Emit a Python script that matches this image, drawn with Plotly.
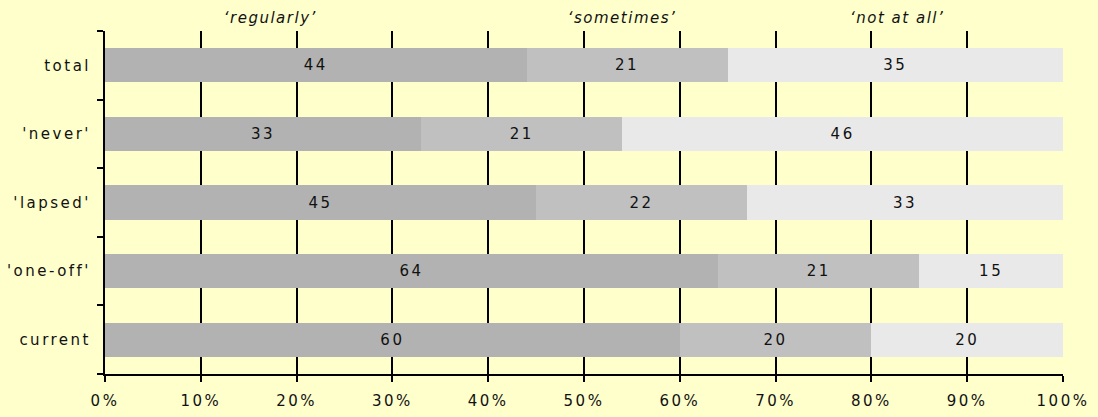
import plotly.graph_objects as go

categories = ["total", "'never'", "'lapsed'", "'one-off'", "current"]
regularly = [44, 33, 45, 64, 60]
sometimes = [21, 21, 22, 21, 20]
not_at_all = [35, 46, 33, 15, 20]
series_names = ["\u2018regularly\u2019", "\u2018sometimes\u2019", "\u2018not at all\u2019"]
header_pos = [0.13, 0.54, 0.868]
x_ticks = [0, 10, 20, 30, 40, 50, 60, 70, 80, 90, 100]
x_tick_labels = [f"{v}%" for v in x_ticks]

colors = ["#B2B2B2", "#C0C0C0", "#E9E9E9"]
FONT = "DejaVu Sans"
FS = 15
TXT = "#111111"

fig = go.Figure()
for name, vals, col in zip(series_names, [regularly, sometimes, not_at_all], colors):
    fig.add_trace(go.Bar(
        y=categories, x=vals, orientation="h", name=name,
        marker=dict(color=col, line=dict(width=0)),
        text=[str(v) for v in vals], textposition="inside",
        insidetextanchor="middle", textangle=0, constraintext="none",
        textfont=dict(family=FONT, size=FS, color=TXT),
    ))

fig.update_layout(
    barmode="stack", bargap=0.5, showlegend=False,
    width=1098, height=417,
    paper_bgcolor="#FFFFCC", plot_bgcolor="#FFFFCC",
    margin=dict(l=105, r=35, t=31, b=43, autoexpand=False),
    font=dict(family=FONT, size=FS, color=TXT),
)
fig.update_xaxes(
    range=[0, 100], tickvals=x_ticks, ticktext=x_tick_labels,
    showgrid=True, gridcolor="black", gridwidth=2,
    showline=True, linecolor="black", linewidth=2,
    ticks="outside", ticklen=6, tickwidth=2, tickcolor="black",
    ticklabelstandoff=6, automargin=False,
    zeroline=False, tickfont=dict(family=FONT, size=FS, color=TXT),
)
fig.update_yaxes(
    categoryorder="array", categoryarray=categories[::-1],
    tickson="boundaries", ticks="outside", ticklen=6, tickwidth=2, tickcolor="black",
    ticklabelstandoff=9, automargin=False,
    showline=True, linecolor="black", linewidth=2, showgrid=False,
    tickfont=dict(family=FONT, size=FS, color=TXT),
)
for name, xp in zip(series_names, header_pos):
    fig.add_annotation(
        x=xp, y=1.0, xref="paper", yref="paper", yanchor="bottom",
        text=name, showarrow=False, yshift=2,
        font=dict(family=FONT, size=FS, color=TXT, style="italic"),
    )

post = """
var s=document.createElement('style');
s.textContent='.main-svg text{letter-spacing:2.5px;} .main-svg .annotation text{letter-spacing:1.5px;}';
document.head.appendChild(s);
"""
fig.write_html("out.html", post_script=post)
